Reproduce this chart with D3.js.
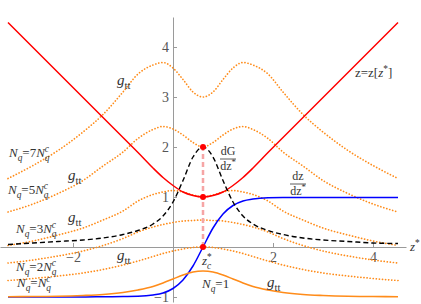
<!DOCTYPE html>
<html>
<head>
<meta charset="utf-8">
<title>gtt_curves</title>
<script src="https://d3js.org/d3.v7.min.js"></script>
<style>
    body { margin: 0; background: #fff; }
    svg text { font-family: "Liberation Serif", "DejaVu Serif", serif; }
</style>
</head>
<body>
<svg width="421" height="304"></svg>
<script>
    // sample points along z*
    var zStar = [-3.3, -2.8, -2.3, -1.8, -1.4, -1.0, -0.7, -0.4, -0.2, 0.0, 0.2, 0.4, 0.6,
                 0.8, 1.0, 1.2, 1.4, 1.6, 1.9, 2.2, 2.6, 3.0, 3.5, 4.0, 4.5];

    // z = z[z*]
    var zOfZStar = [4.49, 3.99, 3.49, 2.99, 2.59, 2.19, 1.89, 1.58, 1.39, 1.23, 1.10, 1.03, 1.00,
                    1.03, 1.10, 1.23, 1.39, 1.58, 1.89, 2.19, 2.59, 2.99, 3.49, 3.99, 4.49];
    // dz/dz*
    var dzdz = [-1, -1, -1, -1, -0.995, -0.99, -0.985, -0.96, -0.92, -0.83, -0.66, -0.38, 0,
                0.38, 0.66, 0.83, 0.92, 0.96, 0.985, 0.99, 0.99, 0.99, 0.99, 0.99, 0.99];
    // dG/dz*
    var dGdz = [0.05, 0.08, 0.11, 0.14, 0.18, 0.25, 0.33, 0.46, 0.62, 0.9, 1.33, 1.8, 2.0,
                1.8, 1.33, 0.9, 0.62, 0.46, 0.33, 0.25, 0.18, 0.14, 0.11, 0.08, 0.07];

    // g_tt for the different N_q
    var gtt7 = [1.37, 1.63, 1.93, 2.3, 2.65, 3.1, 3.46, 3.64, 3.69, 3.58, 3.35, 3.1, 3.0,
                3.1, 3.35, 3.58, 3.69, 3.64, 3.46, 3.1, 2.65, 2.3, 1.93, 1.63, 1.37];
    var gtt5 = [0.7, 0.86, 1.07, 1.33, 1.62, 1.9, 2.17, 2.35, 2.41, 2.36, 2.24, 2.09, 2.0,
                2.09, 2.24, 2.36, 2.41, 2.35, 2.17, 1.9, 1.62, 1.33, 1.07, 0.86, 0.7];
    var gtt3 = [0.03, 0.12, 0.24, 0.38, 0.54, 0.72, 0.92, 1.05, 1.1, 1.13, 1.1, 1.04, 1.0,
                1.04, 1.1, 1.13, 1.1, 1.05, 0.92, 0.72, 0.54, 0.38, 0.24, 0.12, 0.03];
    var gtt2 = [-0.32, -0.26, -0.18, -0.08, 0.03, 0.17, 0.3, 0.4, 0.45, 0.49, 0.52, 0.53, 0.54,
                0.53, 0.52, 0.49, 0.45, 0.4, 0.3, 0.17, 0.03, -0.08, -0.18, -0.26, -0.32];
    var gttC = [-0.67, -0.63, -0.58, -0.52, -0.45, -0.36, -0.28, -0.19, -0.13, -0.08, -0.04, -0.01, 0.0,
                -0.01, -0.04, -0.08, -0.13, -0.19, -0.28, -0.36, -0.45, -0.52, -0.58, -0.63, -0.67];
    var gttOne = [-0.995, -0.99, -0.985, -0.97, -0.95, -0.91, -0.86, -0.79, -0.72, -0.64, -0.56, -0.5, -0.48,
                  -0.5, -0.56, -0.64, -0.72, -0.79, -0.86, -0.91, -0.95, -0.97, -0.985, -0.99, -0.995];

    // critical point z_c* and the marked values there
    var markZ = [0.6, 0.6, 0.6];
    var markV = [0, 1, 2];

    var xMajor = [-2, 2, 4];
    var yMajor = [-1, 1, 2, 3, 4];

    var svg = d3.select("svg");
    var x = d3.scaleLinear().domain([-3.46, 4.66]).range([0, 406]);
    var y = d3.scaleLinear().domain([-1.1, 4.6]).range([302, 17]);

    var axisColor = "#9a9a9a";
    var fmt = d3.format("d");

    // axes (Mathematica style: ticks point inward)
    var gx = svg.append("g").attr("transform", "translate(0," + y(0) + ")");
    gx.call(d3.axisBottom(x)
        .tickValues(d3.range(-3, 4.6, 0.5).filter(function(v) { return v % 2 !== 0; }))
        .tickSizeInner(-2.5).tickSizeOuter(0).tickFormat(""));
    gx.call(d3.axisBottom(x).tickValues(xMajor).tickFormat(fmt)
        .tickSizeInner(-4).tickSizeOuter(0).tickPadding(5));

    var gy = svg.append("g").attr("transform", "translate(" + x(0) + ",0)");
    gy.call(d3.axisLeft(y)
        .tickValues(d3.range(-5, 23).map(function(i) { return i / 5; })
            .filter(function(v) { return Math.abs(v - Math.round(v)) > 1e-6; }))
        .tickSizeInner(-2.5).tickSizeOuter(0).tickFormat(""));
    gy.call(d3.axisLeft(y).tickValues(yMajor).tickFormat(fmt)
        .tickSizeInner(-4).tickSizeOuter(0).tickPadding(4));

    svg.selectAll(".domain, .tick line").attr("stroke", axisColor).attr("stroke-width", 1);
    svg.selectAll(".tick text")
        .attr("fill", "#555")
        .attr("font-family", "'Liberation Serif', serif")
        .attr("font-size", 14);

    function curve(vals) {
        return d3.line()
            .x(function(d, i) { return x(zStar[i]); })
            .y(function(d) { return y(d); })
            .curve(d3.curveMonotoneX)(vals);
    }

    var plot = svg.append("g");

    // dotted g_tt curves
    [gtt7, gtt5, gtt3, gtt2, gttC].forEach(function(vals) {
        plot.append("path")
            .attr("d", curve(vals))
            .attr("fill", "none")
            .attr("stroke", "#ff8c1a")
            .attr("stroke-width", 1.7)
            .attr("stroke-linecap", "round")
            .attr("stroke-dasharray", "0.1,3");
    });

    plot.append("path").attr("d", curve(dzdz))
        .attr("fill", "none").attr("stroke", "#0000ff").attr("stroke-width", 1.5);
    plot.append("path").attr("d", curve(gttOne))
        .attr("fill", "none").attr("stroke", "#ff8c1a").attr("stroke-width", 1.6);
    plot.append("path").attr("d", curve(zOfZStar))
        .attr("fill", "none").attr("stroke", "#ff0000").attr("stroke-width", 1.5);
    plot.append("path").attr("d", curve(dGdz))
        .attr("fill", "none").attr("stroke", "#000").attr("stroke-width", 1.4)
        .attr("stroke-dasharray", "5,3");

    // vertical marker at z_c*
    plot.append("line")
        .attr("x1", x(markZ[0])).attr("x2", x(markZ[0]))
        .attr("y1", y(d3.min(markV))).attr("y2", y(d3.max(markV)))
        .attr("stroke", "#f6a5a5").attr("stroke-width", 2.5)
        .attr("stroke-dasharray", "5,3");

    plot.selectAll("circle.mark")
        .data(markV)
        .enter()
        .append("circle")
        .attr("class", "mark")
        .attr("cx", function(d, i) { return x(markZ[i]); })
        .attr("cy", function(d) { return y(d); })
        .attr("r", 3)
        .attr("fill", "#ff0000");

    // rich text helper: parts are [text, flags] with i=italic, s=sub, S=sup, b=back over the sub
    function rich(px, py, parts, size, anchor) {
        var t = svg.append("text")
            .attr("x", px).attr("y", py)
            .attr("fill", "#333")
            .attr("text-anchor", anchor || "start")
            .style("font-size", size + "px");
        var cur = 0;
        parts.forEach(function(p) {
            var f = p[1] || "";
            var off = f.indexOf("s") >= 0 ? size * 0.28 : (f.indexOf("S") >= 0 ? -size * 0.38 : 0);
            var ts = t.append("tspan").text(p[0]).attr("dy", off - cur);
            cur = off;
            if (f.indexOf("i") >= 0) ts.style("font-style", "italic");
            if (f.indexOf("s") >= 0 || f.indexOf("S") >= 0) ts.style("font-size", (size * 0.72) + "px");
            if (f.indexOf("b") >= 0) ts.attr("dx", -size * 0.36);
        });
        return t;
    }

    function nq(mult) {
        return [["N", "i"], ["q", "is"], ["=" + mult], ["N", "i"], ["q", "is"], ["c", "iSb"]];
    }

    rich(x(-3.28), y(1.8), nq("7"), 13);
    rich(x(-3.3), y(1.06), nq("5"), 13);
    rich(x(-3.14), y(0.28), nq("3"), 13);
    rich(x(-3.14), y(-0.48), nq("2"), 13);
    rich(x(-3.12), y(-0.8), nq(""), 13);
    rich(x(0.58), y(-0.82), [["N", "i"], ["q", "is"], ["=1"]], 13);

    var gttLabel = [["g", "i"], ["tt", "s"]];
    rich(x(-1.12), y(3.24), gttLabel, 15);
    rich(x(-2.1), y(1.34), gttLabel, 15);
    rich(x(-2.1), y(0.5), gttLabel, 15);
    rich(x(-1.12), y(-0.26), gttLabel, 15);
    rich(x(1.88), y(-0.8), gttLabel, 15);

    rich(x(0.58), y(-0.36), [["z", "i"], ["*", "S"], ["c", "isb"]], 13);
    rich(x(3.64), y(3.4), [["z=z["], ["z", "i"], ["*", "S"], ["]"]], 13);
    rich(x(4.74), y(-0.08), [["z", "i"], ["*", "S"]], 13);

    // fraction labels
    function frac(cx, top, num, den) {
        rich(cx, top, num, 12, "middle");
        svg.append("line")
            .attr("x1", cx - 8).attr("x2", cx + 8)
            .attr("y1", top + 4).attr("y2", top + 4)
            .attr("stroke", "#333").attr("stroke-width", 0.8);
        rich(cx, top + 15, den, 12, "middle");
    }
    frac(x(1.1), y(1.84), [["dG"]], [["dz"], ["*", "S"]]);
    frac(x(2.5), y(1.34), [["dz"]], [["dz"], ["*", "S"]]);
</script>
</body>
</html>
